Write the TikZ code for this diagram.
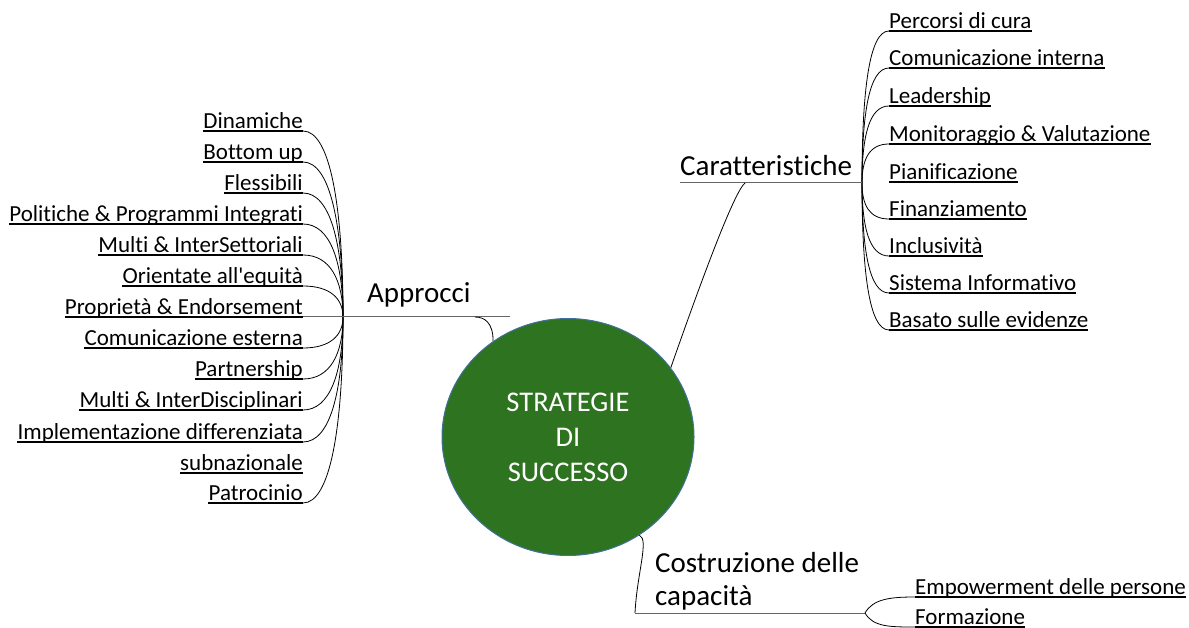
\documentclass[tikz,border=0pt]{standalone}
\usepackage{fontspec}
\setmainfont{Carlito}[Ligatures={NoCommon}]
\usepackage{tikz}
\usetikzlibrary{
	shapes.geometric,
	positioning,
	calc
}
\definecolor{coregreen}{RGB}{46,115,32}
\definecolor{coreblue}{RGB}{65,113,156}

\begin{document}
\begin{tikzpicture}[
        x=1pt, y=-1pt,
        % foglie sottolineate (underlined leaves)
        leaf/.style={
            inner sep=0pt,
            text depth=2.5pt,
            font=\fontsize{23}{27}\selectfont
        },
        % rami principali (branch titles)
        branch/.style={
            inner sep=0pt,
            align=left,
            font=\fontsize{29}{33}\selectfont
        },
        trunk/.style={draw=black!60, line width=1pt},
        twig/.style={draw=black, line width=0.8pt},
        uline/.style={draw=black, line width=1.2pt}
    ]
        \useasboundingbox (0,0) rectangle (1189,628);

        % ====================
        % Nodo centrale (Core)
        % ====================
        \node[ellipse, fill=coregreen, draw=coreblue, line width=1pt,
              minimum width=252pt, minimum height=237pt,
              text=white, align=center, font=\fontsize{28.5}{35}\selectfont]
            (core) at (568,437) {STRATEGIE\\DI\\SUCCESSO};

        % ====================
        % Approcci (left)
        % ====================
        \coordinate (AH) at (343,317);      % punto di raccolta
        \coordinate (AE) at (510,317);
        \coordinate (AJ) at (475,317);
        \node[branch, anchor=base west] (A) at (367,303) {Approcci};

        \foreach \txt/\yy [count=\i] in {
            Dinamiche/131, Bottom up/162, Flessibili/193,
            Politiche \& Programmi Integrati/224, Multi \& InterSettoriali/255,
            Orientate all\textquotesingle equità/286, Proprietà \& Endorsement/317,
            Comunicazione esterna/348, Partnership/379,
            Multi \& InterDisciplinari/410, Implementazione differenziata/442,
            subnazionale/473, Patrocinio/503}
            \node[leaf, anchor=south east] (A\i) at (303,\yy) {\txt};

        \foreach \i in {1,...,13}
            \draw[uline] (A\i.south west) -- (A\i.south east);

        % curve verso le foglie
        \foreach \i in {1,2,3,4,5,6,8,9,10,11,13}
            \draw[twig] (AH) .. controls ($(AH)!0.6!(AH|-A\i.south)$)
                and ($(A\i.south east)+(27,0)$) .. (A\i.south east);

        \draw[trunk] (A7.south east) -- (AE);
        \draw[twig] (core.128) .. controls +(0,-18) and +(10,0) .. (AJ);

        % ====================
        % Caratteristiche (right)
        % ====================
        \coordinate (CH) at (862,183);      % punto di raccolta
        \coordinate (CS) at (680,183);
        \coordinate (CJ) at (745,183);
        \node[branch, anchor=base west] (C) at (680,176) {Caratteristiche};

        \foreach \txt/\yy [count=\i] in {
            Percorsi di cura/31, Comunicazione interna/68, Leadership/106,
            Monitoraggio \& Valutazione/144, Pianificazione/182,
            Finanziamento/219, Inclusività/256, Sistema Informativo/293,
            Basato sulle evidenze/330}
            \node[leaf, anchor=south west] (C\i) at (889,\yy) {\txt};

        \foreach \i in {1,...,9}
            \draw[uline] (C\i.south west) -- (C\i.south east);

        \foreach \i in {1,2,3,4,6,7,8,9}
            \draw[twig] (CH) .. controls ($(CH)!0.6!(CH|-C\i.south)$)
                and ($(C\i.south west)+(-20,0)$) .. (C\i.south west);

        \draw[trunk] (CS) -- (CH);
        \draw[twig] (core.34) .. controls +(35,-100) and +(-10,8) .. (CJ);

        % ====================
        % Costruzione delle capacità (bottom)
        % ====================
        \coordinate (BS) at (635,613);
        \coordinate (BH) at (865,613);      % punto di raccolta
        % base = ultima riga (capacità)
        \node[branch, anchor=base west] (B) at (655,605) {Costruzione delle\\capacità};

        \node[leaf, anchor=south west] (B1) at (915,597) {Empowerment delle persone};
        \node[leaf, anchor=south west] (B2) at (915,627) {Formazione};
        \draw[uline] (B1.south west) -- (B1.south east);
        \draw[uline] (B2.south west) -- (B2.south east);

        \draw[trunk] (BS) -- (BH);
        \draw[twig] (core.-54) .. controls +(10,4) and +(2,-40) .. (BS);
        \draw[twig] (BH) .. controls +(8,-14) and +(-25,0) .. (B1.south west);
        \draw[twig] (BH) .. controls +(8,14) and +(-25,0) .. (B2.south west);

    \end{tikzpicture}
\end{document}
